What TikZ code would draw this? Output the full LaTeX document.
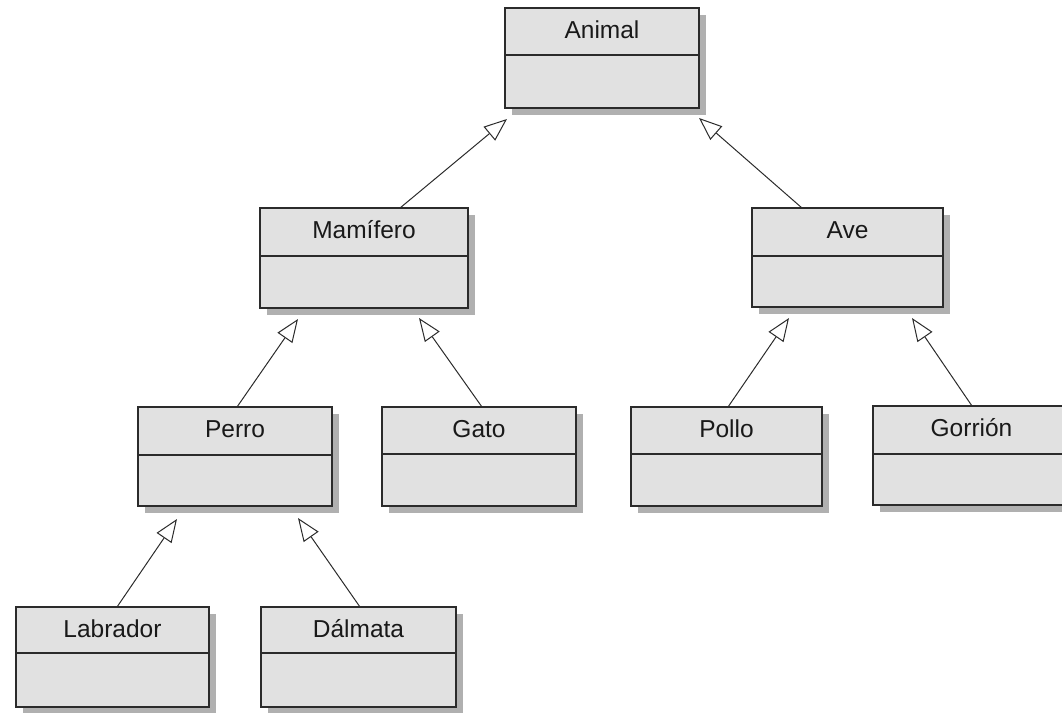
\documentclass[tikz,border=0pt]{standalone}
\usepackage{fontspec}
\setmainfont{Liberation Sans}
\usetikzlibrary{arrows.meta,calc}

\definecolor{boxfill}{HTML}{E1E1E1}
\definecolor{boxshadow}{HTML}{B0B0B0}
\definecolor{inkline}{HTML}{2B2B2B}

\tikzset{
  classbox/.style={draw=inkline, line width=1.3pt, fill=boxfill,
    rectangle, inner sep=0pt, outer sep=0pt},
  classname/.style={anchor=base, inner sep=0pt, text=black!90,
    font=\fontsize{24.5}{28}\selectfont},
  divider/.style={draw=inkline, line width=1.3pt},
  shadowbox/.style={fill=boxshadow},
  inherits/.style={draw=inkline, line width=1pt,
    -{Triangle[open, length=23pt, width=18pt, fill=white]}},
}

% UML class: name, x1, y1, x2, y2, divider y, title
\newcommand{\umlclass}[7]{%
  \fill[shadowbox] (#2+7,#3+7) rectangle (#4+7,#5+7);
  \node[classbox, minimum width={(#4-#2)*1pt}, minimum height={(#5-#3)*1pt}]
    (#1) at ({(#2+#4)/2},{(#3+#5)/2}) {};
  \draw[divider] (#1.west |- 0,#6) -- (#1.east |- 0,#6);
  \node[classname] (#1-title) at ({(#2+#4)/2},{#3+30}) {#7};
}

\begin{document}
\begin{tikzpicture}[x=1pt, y=-1pt]
  \useasboundingbox (0,0) rectangle (1062,712);
  \clip (0,0) rectangle (1062,712);

  % classes
  \umlclass{animal}{505}{8}{699}{108}{55}{Animal}
  \umlclass{mamifero}{260}{208}{468}{308}{256}{Mamífero}
  \umlclass{ave}{752}{208}{943}{307}{256}{Ave}
  \umlclass{perro}{138}{407}{332}{506}{455}{Perro}
  \umlclass{gato}{382}{407}{576}{506}{454}{Gato}
  \umlclass{pollo}{631}{407}{822}{506}{454}{Pollo}
  \umlclass{gorrion}{873}{406}{1070}{505}{454}{Gorrión}
  \umlclass{labrador}{16}{607}{209}{707}{653}{Labrador}
  \umlclass{dalmata}{261}{607}{456}{707}{653}{Dálmata}

  % generalization arrows
  \draw[inherits] ($(mamifero.north west)+(140,0)$) -- ($(animal.south west)+(2,11)$);
  \draw[inherits] ($(ave.north west)+(50,0)$) -- ($(animal.south east)+(0,10)$);
  \draw[inherits] ($(perro.north west)+(99,0)$) -- ($(mamifero.south west)+(38,11)$);
  \draw[inherits] ($(gato.north west)+(100,0)$) -- ($(mamifero.south east)+(-49,10)$);
  \draw[inherits] ($(pollo.north west)+(97,0)$) -- ($(ave.south west)+(37,11)$);
  \draw[inherits] ($(gorrion.north west)+(99,0)$) -- ($(ave.south east)+(-31,11)$);
  \draw[inherits] ($(labrador.north west)+(101,0)$) -- ($(perro.south west)+(39,13)$);
  \draw[inherits] ($(dalmata.north west)+(99,0)$) -- ($(perro.south east)+(-34,12)$);
\end{tikzpicture}
\end{document}
